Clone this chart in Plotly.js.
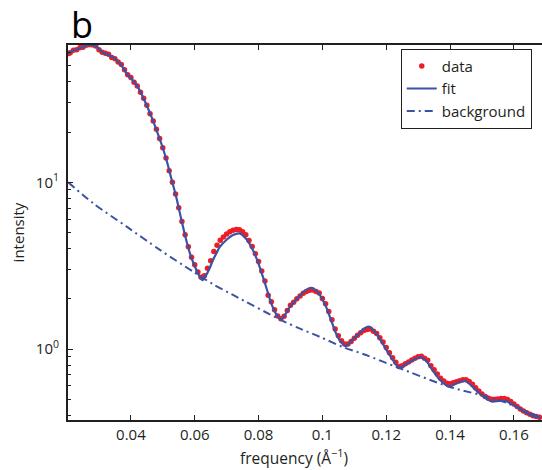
<!DOCTYPE html>
<html>
<head>
<meta charset="utf-8">
<script src="https://cdn.plot.ly/plotly-3.0.1.min.js"></script>
<style>html,body{margin:0;padding:0;background:#fff;}#chart{width:542px;height:470px;}</style>
</head>
<body>
<div id="chart"></div>
<script>
// measured data (red dots)
var dataX = [0.0205,0.021,0.022,0.023,0.024,0.025,0.026,0.027,0.028,0.029,0.030,0.031,0.032,0.033,0.034,0.035,0.036,0.037,0.038,0.039,
0.040,0.041,0.042,0.043,0.044,0.045,0.046,0.047,0.048,0.049,0.050,0.051,0.052,0.053,0.054,0.055,0.056,0.057,0.058,0.059,
0.060,0.061,0.062,0.063,0.064,0.065,0.066,0.067,0.068,0.069,0.070,0.071,0.072,0.073,0.074,0.075,0.076,0.077,0.078,0.079,
0.080,0.081,0.082,0.083,0.084,0.085,0.086,0.087,0.088,0.089,0.090,0.091,0.092,0.093,0.094,0.095,0.096,0.097,0.098,0.099,
0.100,0.101,0.102,0.103,0.104,0.105,0.106,0.107,0.108,0.109,0.110,0.111,0.112,0.113,0.114,0.115,0.116,0.117,0.118,0.119,
0.120,0.121,0.122,0.123,0.124,0.125,0.126,0.127,0.128,0.129,0.130,0.131,0.132,0.133,0.134,0.135,0.136,0.137,0.138,0.139,
0.140,0.141,0.142,0.143,0.144,0.145,0.146,0.147,0.148,0.149,0.150,0.151,0.152,0.153,0.154,0.155,0.156,0.157,0.158,0.159,
0.160,0.161,0.162,0.163,0.164,0.165,0.166,0.167,0.168];
var dataY = [59.2,60.0,62.1,62.4,64.3,64.6,66.4,67.0,66.8,65.8,62.5,60.3,59.4,58.6,56.2,55.2,52.7,50.9,47.4,44.2,
42.5,39.8,37.8,34.7,32.0,29.0,25.8,23.3,20.8,18.3,16.1,14.0,11.75,10.0,8.51,7.05,5.82,4.85,4.11,3.55,
3.20,2.90,2.69,2.75,3.05,3.39,3.85,4.19,4.49,4.70,4.90,5.05,5.15,5.22,5.20,5.05,4.84,4.47,4.12,3.73,
3.35,2.94,2.56,2.10,1.92,1.72,1.58,1.52,1.57,1.70,1.83,1.91,2.00,2.08,2.16,2.21,2.25,2.26,2.21,2.17,
2.01,1.87,1.68,1.50,1.32,1.20,1.12,1.07,1.07,1.11,1.16,1.21,1.25,1.29,1.31,1.32,1.28,1.24,1.17,1.10,
1.02,0.951,0.887,0.832,0.785,0.794,0.817,0.836,0.859,0.879,0.900,0.904,0.879,0.855,0.794,0.750,0.708,0.668,0.643,0.624,
0.619,0.627,0.637,0.646,0.653,0.655,0.638,0.614,0.586,0.560,0.537,0.519,0.507,0.499,0.499,0.501,0.504,0.505,0.498,0.484,
0.468,0.452,0.437,0.425,0.414,0.406,0.398,0.394,0.389];

// fit curve
var fitX = [0.02009,0.02156,0.02344,0.02531,0.02719,0.02906,0.03134,0.03344,0.03553,0.03709,0.03866,0.04022,0.04178,0.04334,0.04491,0.04647,0.04803,0.04959,0.05116,0.05272,
0.05428,0.05584,0.05741,0.05897,0.06053,0.06147,0.06241,0.06344,0.06469,0.06572,0.06678,0.06781,0.06991,0.07197,0.07406,0.07616,0.07822,0.07978,0.08134,0.08266,
0.08397,0.08553,0.08709,0.08844,0.09000,0.09178,0.09406,0.09656,0.09875,0.10116,0.10272,0.10428,0.10584,0.10741,0.10906,0.11156,0.11313,0.11469,0.11656,0.11884,
0.12125,0.12406,0.12688,0.12969,0.13094,0.13281,0.13447,0.13688,0.13969,0.14219,0.14491,0.14803,0.15063,0.15322,0.15531,0.15741,0.15938,0.16156,0.16375,0.16572,0.16834];
var fitY = [58.9,61.4,63.1,65.3,66.7,65.3,59.8,57.7,54.2,50.2,45.1,41.7,38.4,33.9,29.1,24.7,20.6,16.98,13.61,10.47,
8.05,5.94,4.45,3.52,2.98,2.74,2.59,2.74,3.06,3.42,3.75,4.09,4.51,4.83,4.94,4.57,3.93,3.33,2.72,2.26,
1.88,1.62,1.51,1.62,1.81,1.97,2.20,2.33,2.17,1.79,1.49,1.24,1.10,1.04,1.12,1.24,1.33,1.36,1.26,1.08,
0.908,0.769,0.824,0.883,0.891,0.836,0.748,0.652,0.594,0.625,0.643,0.568,0.515,0.483,0.488,0.488,0.468,0.441,0.416,0.398,0.387];

// background curve
var bgX = [0.0204,0.0282,0.0387,0.0491,0.0595,0.0657,0.0720,0.0871,0.0928,0.0991,0.1063,0.1137,0.1230,0.1397,0.1553,0.1678];
var bgY = [10.0,7.48,5.42,3.93,2.91,2.45,2.11,1.49,1.33,1.185,1.03,0.920,0.783,0.594,0.494,0.393];

var xTickVals = [0.04,0.06,0.08,0.1,0.12,0.14,0.16];
var xTickText = ['0.04','0.06','0.08','0.1','0.12','0.14','0.16'];
var yTickVals = [1,10];
var yTickText = ['10<sup>0</sup>','10<sup>1</sup>'];
var yMinorVals = [0.4,0.5,0.6,0.7,0.8,0.9,2,3,4,5,6,7,8,9,20,30,40,50,60];

var blue = '#3a53a4';
var red = '#ee1d25';
var ink = '#231f20';
var fontFam = 'Open Sans, sans-serif';

var traces = [
  {x: dataX, y: dataY, mode: 'markers', name: 'data', type: 'scatter',
   marker: {color: red, size: 5.5}},
  {x: fitX, y: fitY, mode: 'lines', name: 'fit', type: 'scatter',
   line: {color: blue, width: 2.2, shape: 'spline', smoothing: 0.6}},
  {x: bgX, y: bgY, mode: 'lines', name: 'background', type: 'scatter',
   line: {color: blue, width: 2, dash: '8px,4px,2px,4px', shape: 'spline', smoothing: 0.8}}
];

var layout = {
  width: 542, height: 470,
  margin: {l: 68, r: 0, t: 45, b: 50, pad: 0},
  paper_bgcolor: '#fff', plot_bgcolor: '#fff',
  font: {family: fontFam, size: 15, color: ink},
  showlegend: true,
  legend: {x: 0.702, y: 0.99, xanchor: 'left', yanchor: 'top',
    bgcolor: '#fff', bordercolor: ink, borderwidth: 1,
    font: {family: fontFam, size: 15, color: ink}, tracegroupgap: 0},
  xaxis: {
    type: 'linear', range: [0.0203, 0.1688],
    tickmode: 'array', tickvals: xTickVals, ticktext: xTickText,
    ticks: 'inside', ticklen: 5, tickwidth: 1, tickcolor: ink,
    showline: true, linecolor: ink, linewidth: 2, mirror: 'ticks',
    showgrid: false, zeroline: false,
    tickfont: {family: fontFam, size: 15, color: ink}
  },
  yaxis: {
    type: 'log', range: [-0.426, 1.824],
    tickmode: 'array', tickvals: yTickVals, ticktext: yTickText,
    ticks: 'inside', ticklen: 5, tickwidth: 1, tickcolor: ink,
    minor: {tickmode: 'array', tickvals: yMinorVals, ticks: 'inside', ticklen: 3, tickcolor: ink, showgrid: false},
    showline: true, linecolor: ink, linewidth: 2, mirror: false,
    showgrid: false, zeroline: false, ticklabelstandoff: 4,
    tickfont: {family: fontFam, size: 15, color: ink},
    title: {text: 'intensity', font: {family: fontFam, size: 15, color: ink}, standoff: 8}
  },
  annotations: [{
    text: 'b', xref: 'paper', yref: 'paper', x: 0, y: 1, xanchor: 'left', yanchor: 'bottom',
    xshift: 1, yshift: -6, showarrow: false, font: {family: fontFam, size: 36, color: '#000'}
  }, {
    text: 'frequency (Å<sup>−1</sup>)', xref: 'paper', yref: 'paper', x: 0.477, y: 0,
    xanchor: 'center', yanchor: 'top', yshift: -23, showarrow: false,
    font: {family: fontFam, size: 15.5, color: ink}
  }]
};

Plotly.newPlot('chart', traces, layout, {displayModeBar: false, staticPlot: true});
</script>
</body>
</html>
